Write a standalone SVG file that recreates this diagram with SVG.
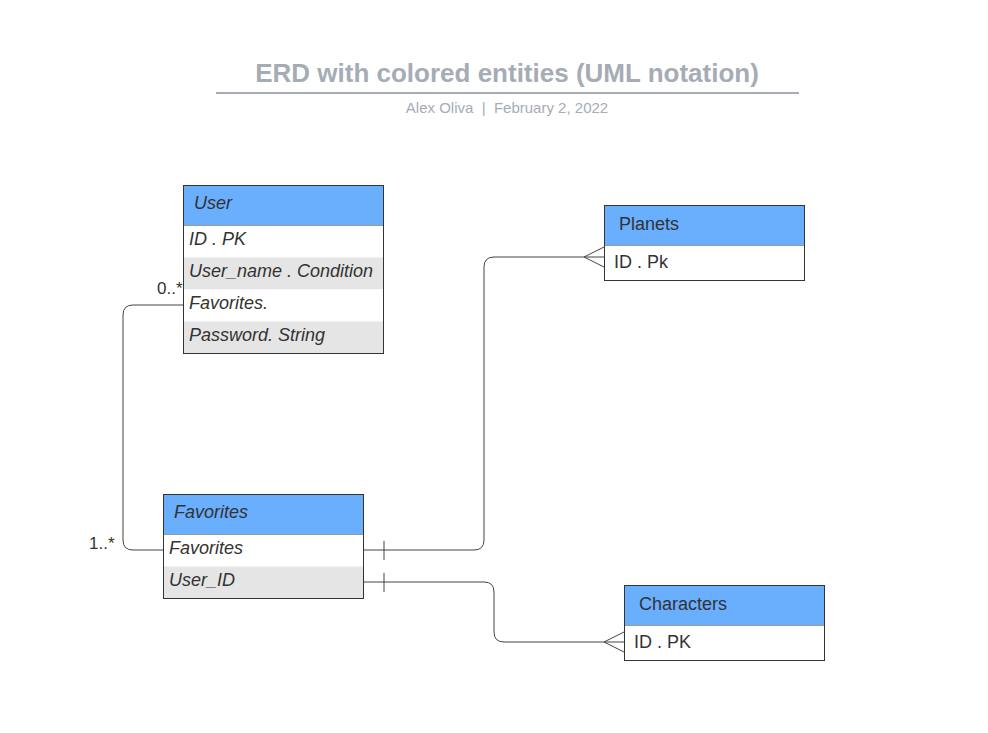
<svg xmlns="http://www.w3.org/2000/svg" width="988" height="733" viewBox="0 0 988 733">
<style>
.hdr{fill:#6aaefe;stroke:#333;stroke-width:1}
.row{fill:#ffffff;stroke:none}
.alt{fill:#e5e5e5;stroke:none}
.frame{fill:none;stroke:#333;stroke-width:1}
.t{font-family:"Liberation Sans",Arial,sans-serif;font-size:18px;fill:#333}
.i{font-style:italic}
.conn{fill:none;stroke:#444;stroke-width:1}
.lbl{font-family:"Liberation Sans",Arial,sans-serif;font-size:17px;fill:#333}
</style>
<rect width="988" height="733" fill="#fff"/>
<g id="title">
<text x="507" y="82" text-anchor="middle" font-family="'Liberation Sans',Arial,sans-serif" font-size="26" font-weight="bold" fill="#a6acb5">ERD with colored entities (UML notation)</text>
<line x1="216" y1="93" x2="799" y2="93" stroke="#a6acb5" stroke-width="2"/>
<text x="507" y="113" text-anchor="middle" font-family="'Liberation Sans',Arial,sans-serif" font-size="15" fill="#a6acb5" xml:space="preserve">Alex Oliva  |  February 2, 2022</text>
</g>
<g id="connectors">
<path class="conn" d="M183,305 H133 Q123,305 123,315 V540 Q123,550 133,550 H163"/>
<path class="conn" d="M363,550 H474 Q484,550 484,540 V267 Q484,257 494,257 H604"/>
<path class="conn" d="M584,257 L604,247 M584,257 L604,267"/>
<line class="conn" x1="384" y1="541" x2="384" y2="560"/>
<path class="conn" d="M363,582 H484 Q494,582 494,592 V632 Q494,642 504,642 H624"/>
<path class="conn" d="M604,642 L624,632 M604,642 L624,652"/>
<line class="conn" x1="384" y1="573" x2="384" y2="592"/>
<text class="lbl" x="157" y="294">0..*</text>
<text class="lbl" x="89" y="549">1..*</text>
</g>
<g id="user">
<rect class="hdr" x="183.5" y="185.5" width="200" height="40"/>
<rect class="row" x="183.5" y="225.5" width="200" height="32"/>
<rect class="alt" x="183.5" y="257.5" width="200" height="32"/>
<rect class="row" x="183.5" y="289.5" width="200" height="32"/>
<rect class="alt" x="183.5" y="321.5" width="200" height="32"/>
<rect class="frame" x="183.5" y="185.5" width="200" height="168"/>
<text class="t i" x="194" y="209">User</text>
<text class="t i" x="189" y="245">ID . PK</text>
<text class="t i" x="189" y="277">User_name . Condition</text>
<text class="t i" x="189" y="309">Favorites.</text>
<text class="t i" x="189" y="341">Password. String</text>
</g>
<g id="favorites">
<rect class="hdr" x="163.5" y="494.5" width="200" height="40"/>
<rect class="row" x="163.5" y="534.5" width="200" height="32"/>
<rect class="alt" x="163.5" y="566.5" width="200" height="32"/>
<rect class="frame" x="163.5" y="494.5" width="200" height="104"/>
<text class="t i" x="174" y="518">Favorites</text>
<text class="t i" x="169" y="554">Favorites</text>
<text class="t i" x="169" y="586">User_ID</text>
</g>
<g id="planets">
<rect class="hdr" x="604.5" y="205.5" width="200" height="40"/>
<rect class="row" x="604.5" y="245.5" width="200" height="35"/>
<rect class="frame" x="604.5" y="205.5" width="200" height="75"/>
<text class="t" x="619" y="230">Planets</text>
<text class="t" x="614" y="268">ID . Pk</text>
</g>
<g id="characters">
<rect class="hdr" x="624.5" y="585.5" width="200" height="40"/>
<rect class="row" x="624.5" y="625.5" width="200" height="35"/>
<rect class="frame" x="624.5" y="585.5" width="200" height="75"/>
<text class="t" x="639" y="610">Characters</text>
<text class="t" x="634" y="648">ID . PK</text>
</g>
</svg>
